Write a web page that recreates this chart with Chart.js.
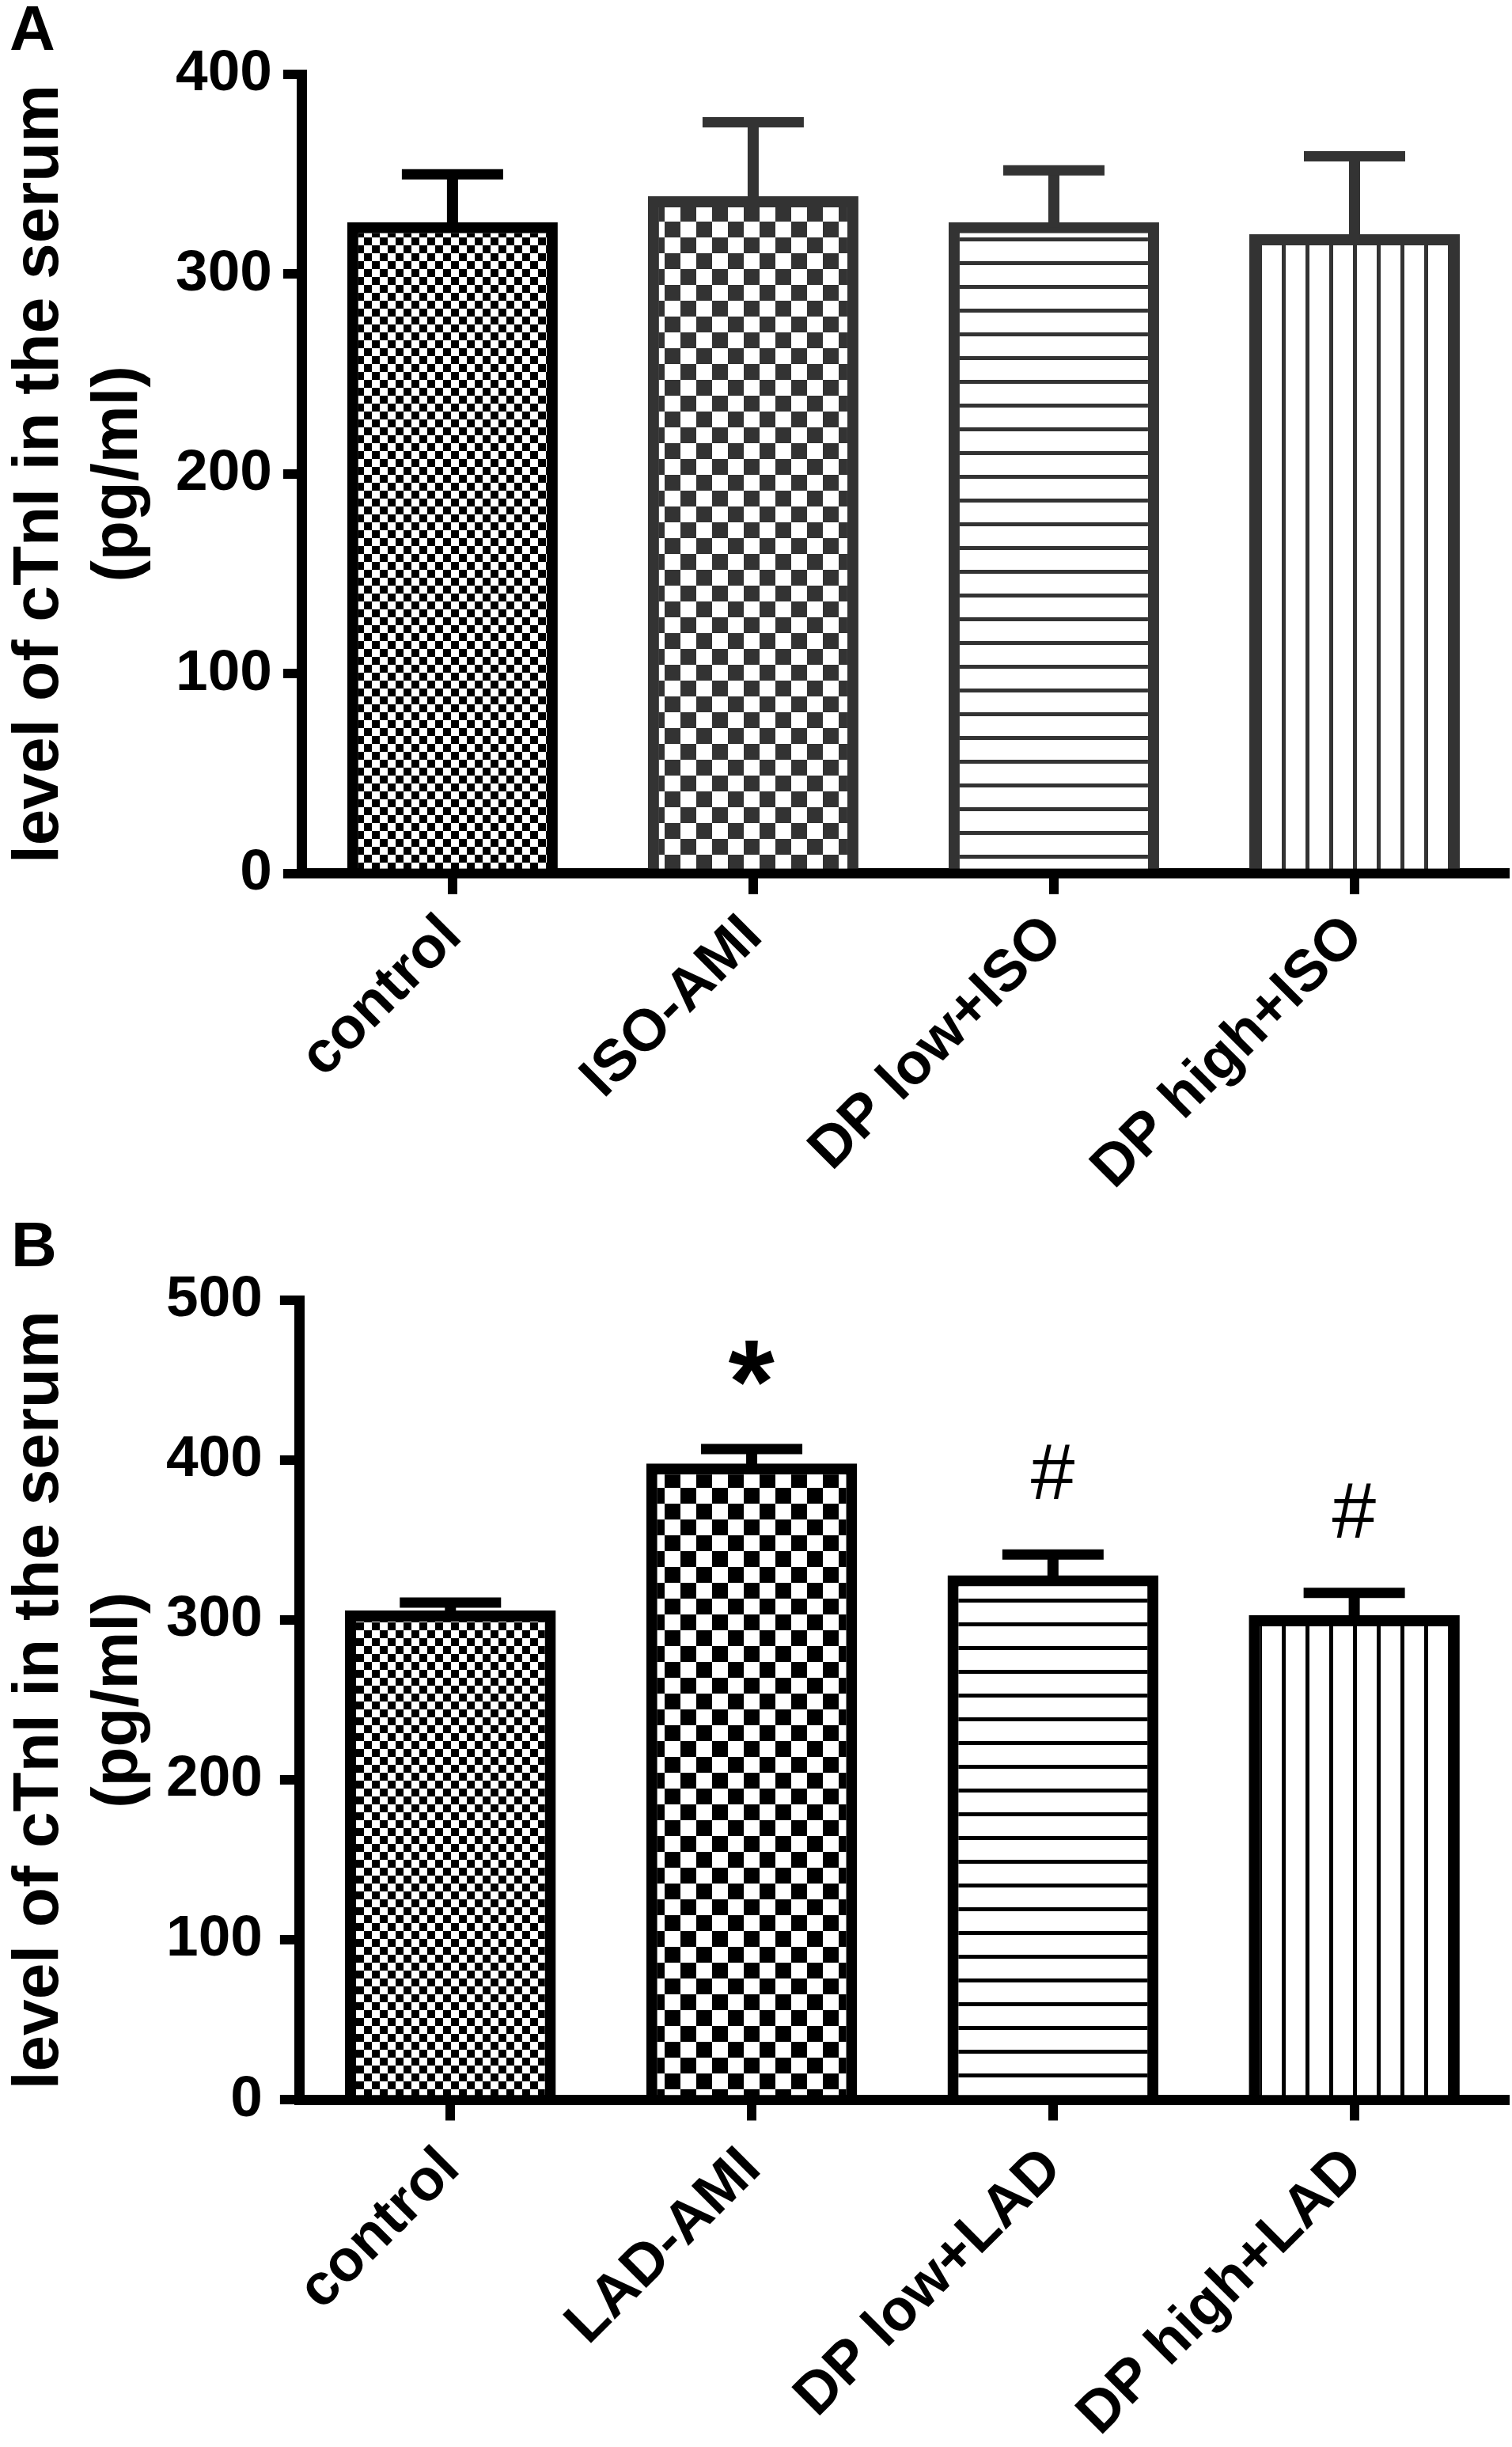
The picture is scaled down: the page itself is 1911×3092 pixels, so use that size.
<!DOCTYPE html>
<html>
<head>
<meta charset="utf-8">
<script src="https://cdn.jsdelivr.net/npm/chart.js@4.4.1/dist/chart.umd.min.js"></script>
<style>
  html, body { margin: 0; padding: 0; background: #fff; }
  #wrap { width: 1911px; height: 3092px; }
  canvas { display: block; }
</style>
</head>
<body>
<div id="wrap">
  <canvas id="chartA" width="1911" height="1540"></canvas>
  <canvas id="chartB" width="1911" height="1552"></canvas>
</div>
<script>
// ---- data ----
const categoriesA = ['control', 'ISO-AMI', 'DP low+ISO', 'DP high+ISO'];
const meansA      = [326, 339, 326, 320];
const semA        = [24, 37, 26, 39];
const ticksA      = [0, 100, 200, 300, 400];

const categoriesB = ['control', 'LAD-AMI', 'DP low+LAD', 'DP high+LAD'];
const meansB      = [306, 398, 328, 303];
const semB        = [5, 9, 13, 14];
const ticksB      = [0, 100, 200, 300, 400, 500];
const marksB      = ['', '*', '#', '#'];

const yTitle = ['level of cTnI in the serum', '(pg/ml)'];

// ---- look ----
const FONT = "'Liberation Sans', Arial, Helvetica, sans-serif";
Chart.defaults.color = '#000';
Chart.defaults.font.family = FONT;

function checker(ctx, cell, color) {
  const c = document.createElement('canvas');
  c.width = c.height = cell * 2;
  const g = c.getContext('2d');
  g.fillStyle = '#fff'; g.fillRect(0, 0, cell * 2, cell * 2);
  g.fillStyle = color;
  g.fillRect(0, 0, cell, cell);
  g.fillRect(cell, cell, cell, cell);
  return ctx.createPattern(c, 'repeat');
}

function stripes(ctx, gap, width, color, vertical) {
  const c = document.createElement('canvas');
  c.width = c.height = gap;
  const g = c.getContext('2d');
  g.fillStyle = '#fff'; g.fillRect(0, 0, gap, gap);
  g.fillStyle = color;
  if (vertical) g.fillRect(0, 0, width, gap);
  else g.fillRect(0, 0, gap, width);
  return ctx.createPattern(c, 'repeat');
}

// error bars (mean + SEM, upper only)
const errorBars = {
  id: 'errorBars',
  afterDatasetsDraw(chart, args, opts) {
    const { ctx, scales: { y } } = chart;
    const meta = chart.getDatasetMeta(0);
    ctx.save();
    ctx.lineCap = 'butt';
    meta.data.forEach((bar, i) => {
      const top = y.getPixelForValue(opts.means[i] + opts.sem[i]);
      ctx.strokeStyle = opts.colors[i];
      ctx.lineWidth = 14;
      ctx.beginPath();
      ctx.moveTo(bar.x, bar.y + 7);
      ctx.lineTo(bar.x, top);
      ctx.stroke();
      ctx.lineWidth = 13;
      ctx.beginPath();
      ctx.moveTo(bar.x - 64, top);
      ctx.lineTo(bar.x + 64, top);
      ctx.stroke();
    });
    ctx.restore();
  }
};

// significance marks above the error bars
const sigMarks = {
  id: 'sigMarks',
  afterDatasetsDraw(chart, args, opts) {
    if (!opts.marks) return;
    const { ctx, scales: { y } } = chart;
    const meta = chart.getDatasetMeta(0);
    ctx.save();
    ctx.fillStyle = '#000';
    ctx.textBaseline = 'alphabetic';
    meta.data.forEach((bar, i) => {
      const s = opts.marks[i];
      if (!s) return;
      const star = s === '*';
      ctx.font = (star ? 'bold 150px ' : '100px ') + FONT;
      const m = ctx.measureText(s);
      const inkBottom = y.getPixelForValue(opts.means[i] + opts.sem[i]) - (star ? 80 : 70);
      const bx = bar.x - (m.actualBoundingBoxRight - m.actualBoundingBoxLeft) / 2;
      ctx.fillText(s, bx, inkBottom - m.actualBoundingBoxDescent);
    });
    ctx.restore();
  }
};

// panel letter
const panelLabel = {
  id: 'panelLabel',
  afterDraw(chart, args, opts) {
    const { ctx } = chart;
    ctx.save();
    ctx.fillStyle = '#000';
    ctx.font = 'bold 80px ' + FONT;
    ctx.textBaseline = 'alphabetic';
    ctx.fillText(opts.text, opts.x, opts.y);
    ctx.restore();
  }
};

function makeChart(id, cfg) {
  const canvas = document.getElementById(id);
  const ctx = canvas.getContext('2d');
  return new Chart(canvas, {
    type: 'bar',
    data: {
      labels: cfg.labels,
      datasets: [{
        data: cfg.means,
        backgroundColor: cfg.fills(ctx),
        borderColor: cfg.colors,
        borderWidth: 14,
        borderSkipped: 'bottom',
        categoryPercentage: 1,
        barPercentage: 0.7
      }]
    },
    plugins: [errorBars, sigMarks, panelLabel],
    options: {
      responsive: false,
      devicePixelRatio: 1,
      animation: false,
      layout: { padding: cfg.padding },
      plugins: {
        legend: { display: false },
        tooltip: { enabled: false },
        errorBars: { means: cfg.means, sem: cfg.sem, colors: cfg.colors },
        sigMarks: { marks: cfg.marks, means: cfg.means, sem: cfg.sem },
        panelLabel: cfg.letter
      },
      scales: {
        x: {
          offset: true,
          grid: { offset: false, drawOnChartArea: false, drawTicks: true, tickLength: 26, lineWidth: 12, color: '#000' },
          border: { display: true, width: 13, color: '#000' },
          ticks: {
            autoSkip: false, minRotation: 45, maxRotation: 45, padding: cfg.xPad,
            font: { family: FONT, size: 74, weight: 'bold' }, color: '#000'
          }
        },
        y: {
          min: cfg.ticks[0],
          max: cfg.ticks[cfg.ticks.length - 1],
          grid: { drawOnChartArea: false, drawTicks: true, tickLength: cfg.yTick, lineWidth: 12, color: '#000' },
          border: { display: true, width: 13, color: '#000' },
          ticks: {
            stepSize: cfg.ticks[1] - cfg.ticks[0], padding: cfg.yPad,
            font: { family: FONT, size: 73, weight: 'bold' }, color: '#000'
          },
          title: {
            display: true, text: yTitle, color: '#000',
            font: { family: FONT, size: 82, weight: 'bold', lineHeight: 1.22 },
            padding: cfg.titlePad
          }
        }
      }
    }
  });
}

makeChart('chartA', {
  labels: categoriesA, means: meansA, sem: semA, ticks: ticksA, marks: null,
  colors: ['#000', '#333', '#333', '#333'],
  fills: ctx => [
    checker(ctx, 10, '#000'),
    checker(ctx, 20, '#333'),
    stripes(ctx, 30, 5, '#333', false),
    stripes(ctx, 30, 5, '#333', true)
  ],
  padding: { left: 0, top: 94, right: 9, bottom: 9 },
  titlePad: { top: 0, bottom: 8 },
  xPad: 10, yPad: 14, yTick: 24,
  letter: { text: 'A', x: 12, y: 63 }
});

makeChart('chartB', {
  labels: categoriesB, means: meansB, sem: semB, ticks: ticksB, marks: marksB,
  colors: ['#000', '#000', '#000', '#000'],
  fills: ctx => [
    checker(ctx, 10, '#000'),
    checker(ctx, 20, '#000'),
    stripes(ctx, 30, 5, '#000', false),
    stripes(ctx, 30, 5, '#000', true)
  ],
  padding: { left: 0, top: 103, right: 9, bottom: -22 },
  titlePad: { top: 0, bottom: -12 },
  xPad: 18, yPad: 22, yTick: 25,
  letter: { text: 'B', x: 14, y: 60 }
});
</script>
</body>
</html>
